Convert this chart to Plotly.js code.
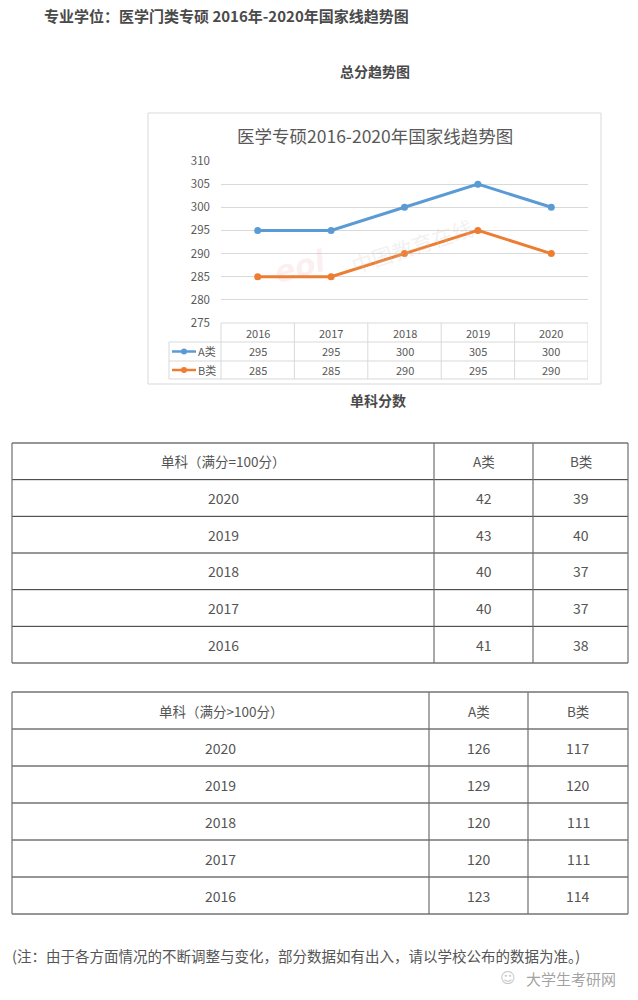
<!DOCTYPE html>
<html>
<head>
<meta charset="utf-8">
<script src="https://cdn.plot.ly/plotly-3.0.1.min.js"></script>
<style>
  html, body { margin: 0; padding: 0; background: #fff; }
  #chart { width: 638px; height: 1000px; }
</style>
</head>
<body>
<div id="chart"></div>
<script>
const years = ['2016', '2017', '2018', '2019', '2020'];
const totalA = [295, 295, 300, 305, 300];
const totalB = [285, 285, 290, 295, 290];

const tableYears = ['2020', '2019', '2018', '2017', '2016'];
const single100A = [42, 43, 40, 40, 41];
const single100B = [39, 40, 37, 37, 38];
const singleOver100A = [126, 129, 120, 120, 123];
const singleOver100B = [117, 120, 111, 111, 114];

const W = 638, H = 1000;
const FONT_CN = '"Noto Sans CJK SC", "Noto Sans", sans-serif';
const TEXT = '#555555';
const GRID = '#d9d9d9';
const BLUE = '#5b9bd5';
const ORANGE = '#ed7d31';

const px = x => x / W;
const py = y => 1 - y / H;

const shapes = [];
const annotations = [];

function line(x0, y0, x1, y1, color, width) {
  shapes.push({type: 'line', xref: 'paper', yref: 'paper',
    x0: px(x0), y0: py(y0), x1: px(x1), y1: py(y1),
    line: {color: color, width: width}});
}

function text(str, x, y, size, opts) {
  annotations.push(Object.assign({
    xref: 'paper', yref: 'paper', x: px(x), y: py(y), text: str,
    showarrow: false, xanchor: 'center', yanchor: 'middle',
    font: {family: FONT_CN, size: size, color: TEXT},
  }, opts || {}));
}

// page headings
text('<b>专业学位：医学门类专硕 2016年-2020年国家线趋势图</b>', 42, 15, 15, {xanchor: 'left', font: {family: FONT_CN, size: 15, color: '#4a4a4a'}});
text('<b>总分趋势图</b>', 375, 71, 14, {font: {family: FONT_CN, size: 14, color: '#4a4a4a'}});
text('<b>单科分数</b>', 378, 400, 14, {font: {family: FONT_CN, size: 14, color: '#4a4a4a'}});

// chart frame
shapes.push({type: 'rect', xref: 'paper', yref: 'paper',
  x0: px(148), y0: py(384), x1: px(601), y1: py(113),
  line: {color: GRID, width: 1}});
text('医学专硕2016-2020年国家线趋势图', 375, 135, 17.5, {font: {family: FONT_CN, size: 17.5, color: '#595959'}});

// watermark
text('中国教育在线', 412, 246, 21, {textangle: -18, font: {family: FONT_CN, size: 21, color: 'rgba(200,200,200,0.25)'}});
text('<i><b>eol</b></i>', 300, 266, 30, {textangle: -15, font: {family: 'DejaVu Sans', size: 30, color: 'rgba(230,130,130,0.13)'}});

// data table under the chart
const tLeft = 169, pLeft = 221, pRight = 588;
const rowY = [323, 342, 361, 379];
line(pLeft, rowY[0], pRight, rowY[0], GRID, 1);
for (let i = 1; i < rowY.length; i++) line(tLeft, rowY[i], pRight, rowY[i], GRID, 1);
line(tLeft, rowY[1], tLeft, rowY[3], GRID, 1);
line(pLeft, rowY[0], pLeft, rowY[3], GRID, 1);
years.forEach((yr, i) => {
  shapes.push({type: 'line', xref: 'x', yref: 'paper', x0: i + 0.5, x1: i + 0.5,
    y0: py(rowY[0]), y1: py(rowY[3]), line: {color: GRID, width: 1}});
  const cell = (str, y) => annotations.push({xref: 'x', yref: 'paper', x: i, y: py(y),
    text: str, showarrow: false, yanchor: 'middle',
    font: {family: FONT_CN, size: 11, color: '#595959'}});
  cell(yr, 332.5);
  cell(String(totalA[i]), 351.5);
  cell(String(totalB[i]), 370);
});
[[BLUE, 351.5, 'A类'], [ORANGE, 370, 'B类']].forEach(([c, y, lab]) => {
  line(172, y, 196, y, c, 2.5);
  shapes.push({type: 'circle', xref: 'paper', yref: 'paper',
    x0: px(181), x1: px(187), y0: py(y + 3), y1: py(y - 3),
    fillcolor: c, line: {color: c, width: 0}});
  text(lab, 196, y, 11, {xanchor: 'left', font: {family: FONT_CN, size: 11, color: '#595959'}});
});

// score tables
function scoreTable(top, cols, header, valsA, valsB) {
  const rowH = (cols.bottom - top) / 6;
  const xs = [12, cols.c1, cols.c2, 628];
  for (let r = 0; r <= 6; r++) line(12, top + r * rowH, 628, top + r * rowH, '#2f2f2f', 1);
  xs.forEach(x => line(x, top, x, cols.bottom, '#6f6f6f', 1.2));
  const mid = [(xs[0] + xs[1]) / 2, (xs[1] + xs[2]) / 2, (xs[2] + xs[3]) / 2];
  text(header, mid[0], top + rowH / 2, 13.5);
  text('A类', mid[1], top + rowH / 2, 13.5);
  text('B类', mid[2], top + rowH / 2, 13.5);
  tableYears.forEach((yr, r) => {
    const y = top + (r + 1.5) * rowH;
    text(yr, mid[0], y, 14);
    text(String(valsA[r]), mid[1], y, 14);
    text(String(valsB[r]), mid[2], y, 14);
  });
}
scoreTable(443, {c1: 434, c2: 533, bottom: 663}, '单科（满分=100分）', single100A, single100B);
scoreTable(692, {c1: 429, c2: 528, bottom: 914}, '单科（满分>100分）', singleOver100A, singleOver100B);

// footnote
text('(注：由于各方面情况的不断调整与变化，部分数据如有出入，请以学校公布的数据为准。)', 10, 955, 14.5, {xanchor: 'left'});
text('大学生考研网', 618, 978, 15, {xanchor: 'right', font: {family: FONT_CN, size: 15, color: 'rgba(120,120,120,0.7)'}});
text('☺', 508, 978, 15, {font: {family: 'DejaVu Sans', size: 15, color: 'rgba(150,150,150,0.55)'}});

const traces = [
  {x: years, y: totalA, name: 'A类', type: 'scatter', mode: 'lines+markers',
    line: {color: BLUE, width: 3}, marker: {color: BLUE, size: 7}},
  {x: years, y: totalB, name: 'B类', type: 'scatter', mode: 'lines+markers',
    line: {color: ORANGE, width: 3}, marker: {color: ORANGE, size: 7}},
];

const layout = {
  width: W, height: H,
  margin: {l: 0, r: 0, t: 0, b: 0},
  paper_bgcolor: '#fff', plot_bgcolor: 'rgba(0,0,0,0)',
  showlegend: false,
  xaxis: {
    type: 'category', domain: [px(pLeft), px(pRight)], range: [-0.5, 4.5],
    showticklabels: false, showgrid: false, zeroline: false, showline: false, fixedrange: true,
  },
  yaxis: {
    domain: [py(323), py(161)], range: [275, 310], dtick: 5, tick0: 275,
    showgrid: true, gridcolor: GRID, gridwidth: 1, zeroline: false, showline: false,
    ticks: '', ticklabelstandoff: 10,
    tickfont: {family: FONT_CN, size: 11.5, color: '#595959'}, fixedrange: true,
  },
  shapes: shapes,
  annotations: annotations,
};

Plotly.newPlot('chart', traces, layout, {staticPlot: true, displayModeBar: false});
</script>
</body>
</html>
